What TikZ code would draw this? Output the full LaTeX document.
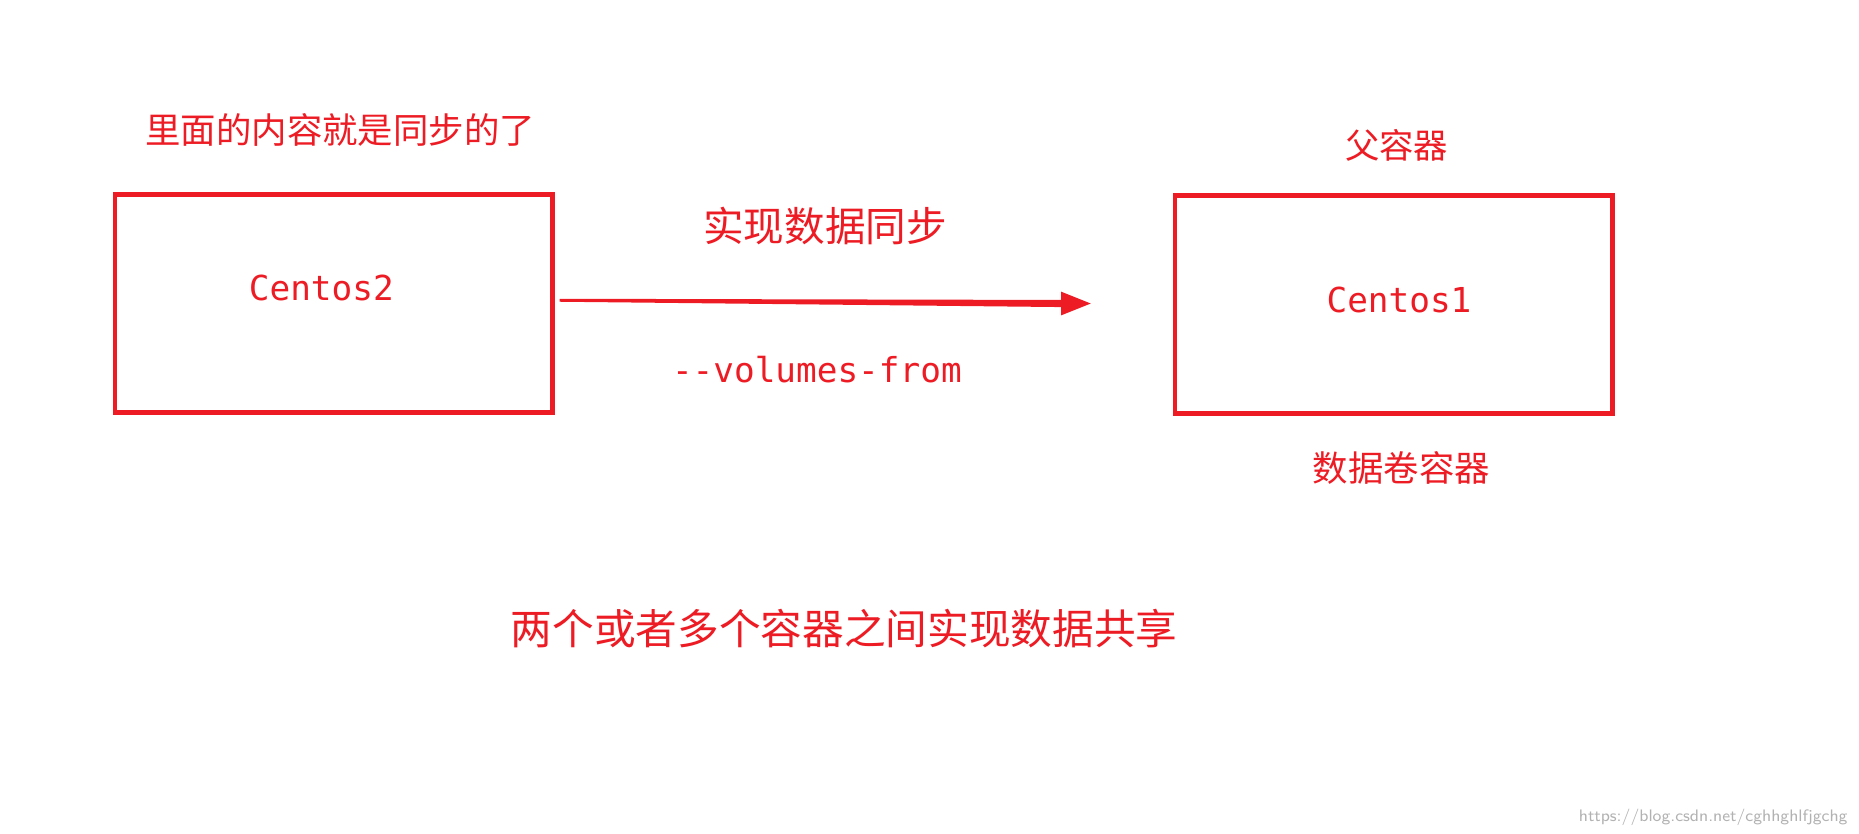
\documentclass[tikz,border=0pt]{standalone}
\usepackage{fontspec}
\newfontfamily\cjk{Noto Sans CJK SC}
\newfontfamily\mono{DejaVu Sans Mono}
\usetikzlibrary{arrows.meta}
\definecolor{rd}{HTML}{ED1C24}
\begin{document}
\begin{tikzpicture}[x=0.02cm,y=-0.02cm,
  box/.style={draw=rd,line width=2.2pt,minimum width=369*0.02cm,minimum height=184*0.02cm,inner sep=0},
  zh/.style={text=rd,font=\cjk\fontsize{#1}{#1}\selectfont,inner sep=0},
  mn/.style={text=rd,font=\mono\fontsize{16.5}{16.5}\selectfont,inner sep=0}]
\useasboundingbox (0,0) rectangle (1568,703);
\node[box] (c2) at (281.5,256) {};
\node[box] (c1) at (1175.5,257) {};
\node[mn] at (271,243) {Centos2};
\node[mn] at (1180,253) {Centos1};
\coordinate (s) at (472,253);
\coordinate (e) at (920,256);
\fill[rd] (472,252) -- (895,253) -- (895,246) -- (920,256) -- (895,266) -- (895,259) -- (472,254.5) -- cycle;
\node[zh=19.5] at (696,191) {实现数据同步};
\node[mn] at (689,312) {-{}-volumes-from};
\node[zh=17] at (287,110) {里面的内容就是同步的了};
\node[zh=16.5] at (1178,123) {父容器};
\node[zh=17] at (1182,395) {数据卷容器};
\node[zh=20] at (712,530) {两个或者多个容器之间实现数据共享};
\node[text=gray!60,font=\fontsize{8}{8}\selectfont\sffamily,inner sep=0] at (1445,689) {https://blog.csdn.net/cghhghlfjgchg};
\end{tikzpicture}
\end{document}
